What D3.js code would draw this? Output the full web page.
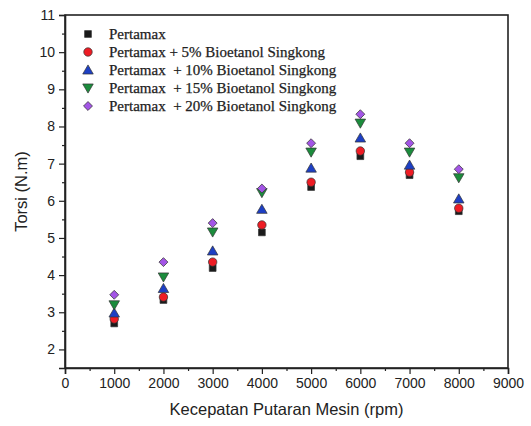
<!DOCTYPE html>
<html><head><meta charset="utf-8">
<script src="https://cdn.jsdelivr.net/npm/d3@7"></script>
<style>body{margin:0;background:#fff;} svg{display:block;}</style>
</head><body>
<svg id="c" width="531" height="426"></svg>
<script>
const rpm = [1000, 2000, 3000, 4000, 5000, 6000, 7000, 8000];
const pertamax   = [2.70, 3.33, 4.19, 5.15, 6.37, 7.20, 6.69, 5.72];
const bio5       = [2.82, 3.41, 4.35, 5.35, 6.50, 7.34, 6.77, 5.80];
const bio10      = [2.98, 3.64, 4.65, 5.77, 6.88, 7.69, 6.96, 6.05];
const bio15      = [3.20, 3.95, 5.16, 6.22, 7.31, 8.09, 7.31, 6.62];
const bio20      = [3.47, 4.35, 5.40, 6.33, 7.55, 8.33, 7.55, 6.85];
const seriesNames = ["Pertamax", "Pertamax + 5% Bioetanol Singkong", "Pertamax  + 10% Bioetanol Singkong", "Pertamax  + 15% Bioetanol Singkong", "Pertamax  + 20% Bioetanol Singkong"];
const xTicks = [0,1000,2000,3000,4000,5000,6000,7000,8000,9000];
const yTicks = [2,3,4,5,6,7,8,9,10,11];
const xLabel = "Kecepatan Putaran Mesin (rpm)";
const yLabel = "Torsi (N.m)";

const series = [
  {name: seriesNames[0], values: pertamax, shape: "square", fill: "#1a1a1a"},
  {name: seriesNames[1], values: bio5, shape: "circle", fill: "#ee1c24"},
  {name: seriesNames[2], values: bio10, shape: "up", fill: "#1d3fc4"},
  {name: seriesNames[3], values: bio15, shape: "down", fill: "#1b8c3c"},
  {name: seriesNames[4], values: bio20, shape: "diamond", fill: "#a355e6"}
];

const svg = d3.select("#c");
const L = 65, R = 508, T = 15, B = 368;
const x = d3.scaleLinear().domain([0, 9000]).range([L, R]);
const y = d3.scaleLinear().domain([1.5, 11]).range([B, T]);

svg.append("rect").attr("x", L).attr("y", T).attr("width", R-L).attr("height", B-T)
  .attr("fill", "none").attr("stroke", "#222").attr("stroke-width", 1.6);

const fontSans = "Arial, 'Liberation Sans', sans-serif";
const gx = svg.append("g").attr("transform", `translate(0,${B})`);
gx.call(d3.axisBottom(x).tickValues(d3.range(500, 9000, 1000)).tickSize(3).tickFormat(""));
gx.call(g => g.select(".domain").remove());
svg.append("g").attr("transform", `translate(0,${B})`)
  .call(d3.axisBottom(x).tickValues(xTicks).tickSize(6).tickPadding(4).tickFormat(d3.format("d")));
const gy = svg.append("g").attr("transform", `translate(${L},0)`);
gy.call(d3.axisLeft(y).tickValues(d3.range(2.5, 11, 1)).tickSize(3).tickFormat(""));
gy.call(g => g.select(".domain").remove());
svg.append("g").attr("transform", `translate(${L},0)`)
  .call(d3.axisLeft(y).tickValues(yTicks).tickSize(6).tickPadding(4).tickFormat(d3.format("d")));
svg.selectAll(".domain").attr("stroke", "#222").attr("stroke-width", 1.6);
svg.selectAll(".tick line").attr("stroke", "#222").attr("stroke-width", 1.2);
svg.selectAll(".tick text").attr("font-family", fontSans).attr("font-size", 14).attr("fill", "#222");

svg.append("text").attr("x", (L+R)/2).attr("y", 415).attr("text-anchor", "middle")
  .attr("font-family", fontSans).attr("font-size", 16.5).attr("fill", "#222").text(xLabel);
svg.append("text").attr("transform", `translate(27,${(T+B)/2}) rotate(-90)`).attr("text-anchor", "middle")
  .attr("font-family", fontSans).attr("font-size", 16.5).attr("fill", "#222").text(yLabel);

const sym = {
  square: d3.symbol().type(d3.symbolSquare).size(46),
  circle: d3.symbol().type(d3.symbolCircle).size(56),
  up: d3.symbol().type(d3.symbolTriangle).size(48),
  down: d3.symbol().type(d3.symbolTriangle).size(48),
  diamond: d3.symbol().type(d3.symbolSquare).size(40)
};
function drawMarker(g, s, cx, cy) {
  let rot = s.shape === "down" ? 180 : (s.shape === "diamond" ? 45 : 0);
  let dy = s.shape === "up" ? 1 : (s.shape === "down" ? -1 : 0);
  g.append("path").attr("d", sym[s.shape]())
    .attr("transform", `translate(${cx},${cy+dy}) rotate(${rot})`)
    .attr("fill", s.fill).attr("stroke", "#333").attr("stroke-width", 0.7);
}

const pts = svg.append("g");
series.forEach(s => {
  s.values.forEach((v, i) => drawMarker(pts, s, x(rpm[i]), y(v)));
});

const lg = svg.append("g");
series.forEach((s, i) => {
  const ly = 34 + i * 18;
  drawMarker(lg, s, 88, ly);
  lg.append("text").attr("x", 109).attr("y", ly + 5)
    .attr("font-family", "'Liberation Serif', 'Times New Roman', serif").attr("font-size", 15)
    .attr("fill", "#222").attr("stroke", "#222").attr("stroke-width", 0.25)
    .attr("xml:space", "preserve").style("white-space", "pre").text(s.name);
});
</script>
</body></html>
